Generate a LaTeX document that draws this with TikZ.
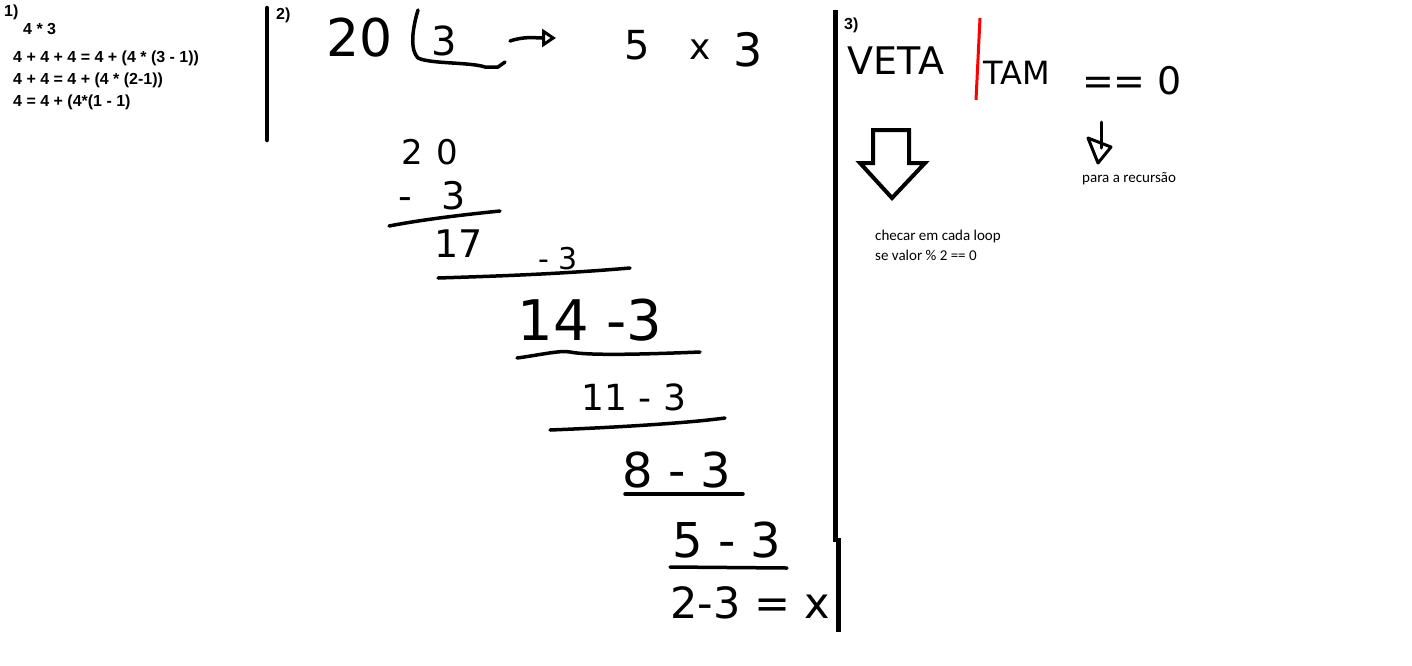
\documentclass[tikz,border=0pt]{standalone}
\usepackage{fontspec}
\setmainfont{DejaVu Sans}
\newfontfamily\typed{Liberation Sans}
\newfontfamily\note{Carlito}
\usetikzlibrary{arrows.meta}
\begin{document}
\begin{tikzpicture}[x=1pt,y=-1pt,
  hand/.style={line width=3.5pt,line cap=round,line join=round},
  typedtxt/.style={anchor=west,inner sep=0pt,font=\typed\bfseries\fontsize{16}{18}\selectfont},
  notetxt/.style={anchor=west,inner sep=0pt,font=\note\fontsize{15}{18}\selectfont},
  hw/.style={inner sep=0pt,font=\fontsize{#1}{#1}\selectfont},
]
\fill[white] (0,0) rectangle (1412,665);
\useasboundingbox (0,0) rectangle (1412,665);

% ---- section 1 ----
\node[typedtxt] (n1) at (4,12) {1)};
\node[typedtxt] (t0) at (23,29) {4 * 3};
\node[typedtxt] (t1) at (13,58) {4 + 4 + 4 = 4 + (4 * (3 - 1))};
\node[typedtxt] (t2) at (13,80) {4 + 4 = 4 + (4 * (2-1))};
\node[typedtxt] (t3) at (13,102) {4 = 4 + (4*(1 - 1)};

% dividers
\draw[line width=4.5pt,line cap=round] (267,8) -- (267,140);
\draw[line width=5pt] (835,10) -- (835,542) (838,538) -- (838,632);

% ---- section 2 ----
\node[typedtxt] (n2) at (276,15) {2)};
\node[hw=52] (a20) at (360,38) {20};
\node[hw=40] (a3) at (444,41) {3};
\draw[hand] (418,10) .. controls (412,30) and (410,50) .. (418,58) .. controls (430,64) and (470,62) .. (485,67) -- (498,67) -- (505,62);
\coordinate (arS) at (510,41);
\coordinate (arE) at (556,38);
\draw[hand,-{Triangle[open,length=14pt,width=18pt,line width=3pt]}] (arS) .. controls (525,36) and (535,38) .. (arE);
\node[hw=40] (a5) at (637,45) {5};
\node[hw=36] (ax) at (700,50) {x};
\node[hw=46] (a3b) at (748,50) {3};

\node[hw=34] (r0) at (430,152) {2\hspace{14pt}0};
\node[hw=38] (r0b) at (432,196) {-\hspace{30pt}3};
\draw[hand] (389,226) .. controls (420,220) and (460,215) .. (500,211);
\node[hw=38] (r1a) at (459,244) {17};
\node[hw=30] (r1b) at (558,259) {- 3};
\draw[hand] (438,278) .. controls (500,276) and (560,274) .. (630,268);
\node[hw=56] (r2) at (590,320) {14 -3};
\draw[hand] (517,358) .. controls (540,355) and (560,350) .. (570,352) .. controls (590,356) and (650,354) .. (700,352);
\node[hw=36] (r3) at (634,397) {11 - 3};
\draw[hand] (550,430) .. controls (600,428) and (680,424) .. (725,418);
\node[hw=48] (r4) at (677,470) {8 - 3};
\draw[hand] (625,494) -- (743,494);
\node[hw=48] (r5) at (727,540) {5 - 3};
\draw[hand] (670,567) -- (787,568);
\node[hw=43] (r6) at (750,603) {2-3 = x};

% ---- section 3 ----
\node[typedtxt] (n3) at (844,25) {3)};
\node[hw=38] (veta) at (896,61) {VETA};
\draw[red,line width=3pt] (980,18) -- (976,100);
\node[hw=32] (tam) at (1017,73) {TAM};
\node[hw=38] (eq) at (1132,81) {== 0};

\draw[line width=4pt,line join=miter,fill=white] (873,130) -- (909,130) -- (909,163) -- (925,163) -- (892,198) -- (860,163) -- (873,163) -- cycle;

\node[notetxt] (rec) at (1082,179) {para a recursão};
\coordinate (sa) at (1101,122);
\draw[line width=3pt,line cap=round] (sa) -- (1101,148);
\draw[line width=3pt,line join=round] (1088,138) -- (1111,147) -- (1098,163) -- cycle;

\node[notetxt] (c1) at (875,236) {checar em cada loop};
\node[notetxt] (c2) at (875,255) {se valor \% 2 == 0};
\end{tikzpicture}
\end{document}
